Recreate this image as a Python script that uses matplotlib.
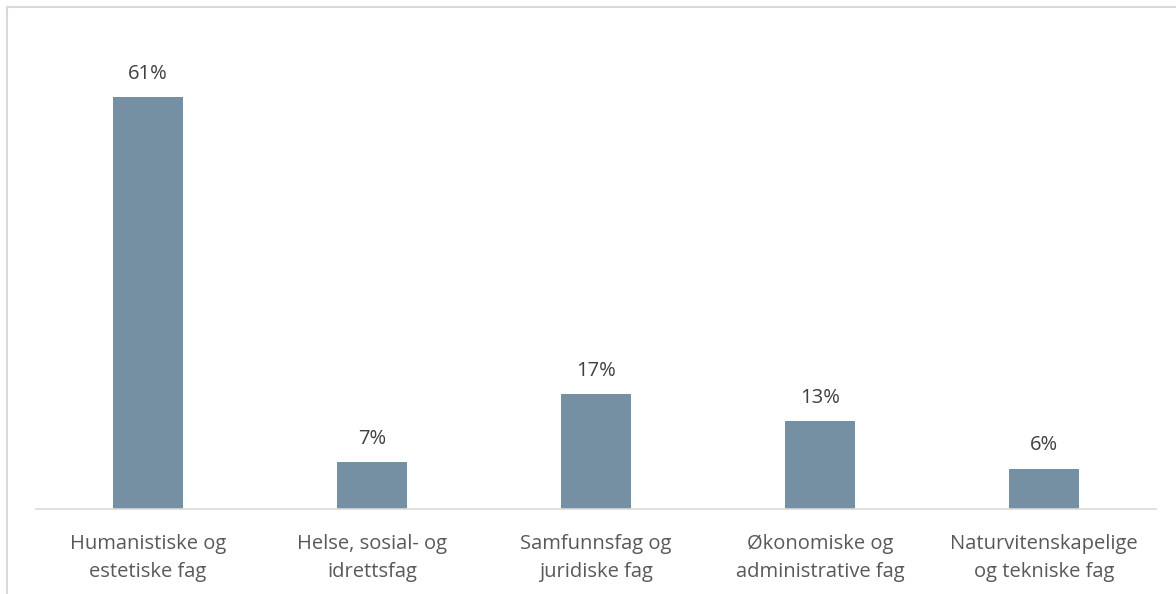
import matplotlib
matplotlib.use("Agg")
import matplotlib.pyplot as plt
from matplotlib.lines import Line2D

categories = ["Humanistiske og\nestetiske fag", "Helse, sosial- og\nidrettsfag",
              "Samfunnsfag og\njuridiske fag", "Økonomiske og\nadministrative fag",
              "Naturvitenskapelige\nog tekniske fag"]
values = [61, 7, 17, 13, 6]
labels = ["61%", "7%", "17%", "13%", "6%"]

W, H = 1176, 594
fig = plt.figure(figsize=(W/100, H/100), dpi=100)
plt.rcParams['font.family'] = ['Open Sans', 'DejaVu Sans']

ax = fig.add_axes([36/W, 1-509/H, 1120/W, (509-20)/H])
x = list(range(len(values)))
bars = ax.bar(x, values, width=0.3125, color="#7590a3")
ax.set_xlim(-0.5, len(values)-0.5)
ax.set_ylim(0, (509-20)/6.75)
for xi, v, lab in zip(x, values, labels):
    ax.annotate(lab, (xi, v), xytext=(0, 9.5), textcoords="offset points",
                ha="center", va="bottom", fontsize=14.5, color="#404040")
ax.set_xticks(x)
ax.set_xticklabels(categories, fontsize=14.5, color="#595959", linespacing=1.5)
ax.tick_params(axis='x', length=0, pad=18)
ax.set_yticks([])
for s in ["top", "right", "left"]:
    ax.spines[s].set_visible(False)
ax.spines["bottom"].set_color("#d9d9d9")
ax.spines["bottom"].set_linewidth(1.2)

fig.add_artist(Line2D([7/W, 7/W], [0, 1-7/H], color="#d9d9d9", lw=1.5, transform=fig.transFigure))
fig.add_artist(Line2D([7/W, 1], [1-7/H, 1-7/H], color="#d9d9d9", lw=1.5, transform=fig.transFigure))

fig.savefig("out.png", dpi=100)
